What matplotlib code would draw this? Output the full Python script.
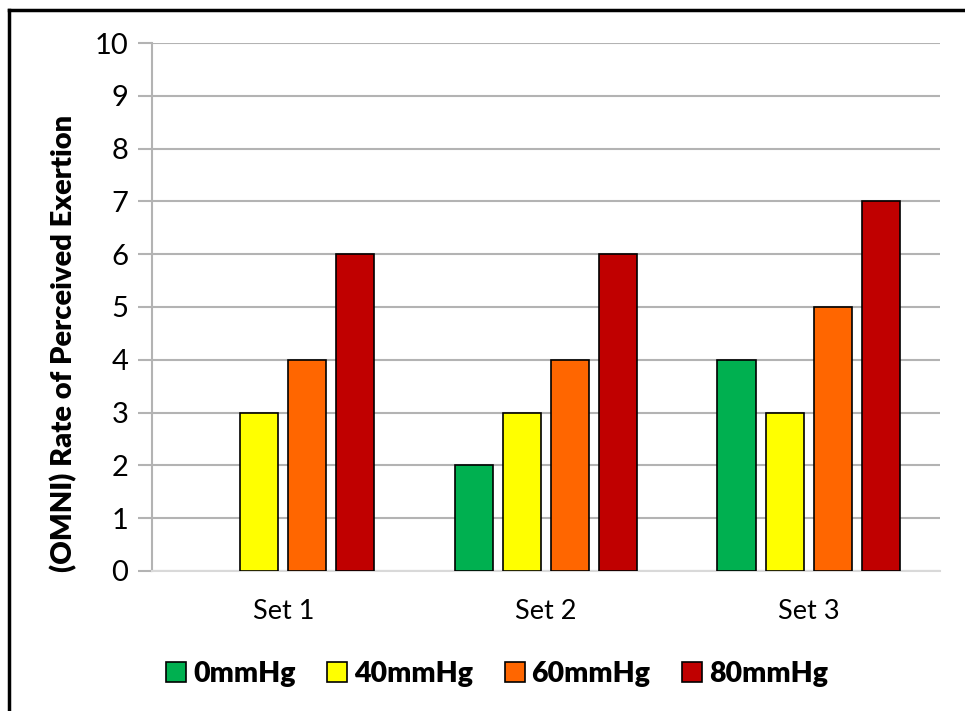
import matplotlib.pyplot as plt
import matplotlib.lines as mlines
import numpy as np

plt.rcParams['font.family'] = ['Lato', 'DejaVu Sans']

# Data
categories = ['Set 1', 'Set 2', 'Set 3']
series_names = ['0mmHg', '40mmHg', '60mmHg', '80mmHg']
series_colors = ['#00b050', '#ffff00', '#ff6600', '#c00000']
values_0 = [0, 2, 4]
values_40 = [3, 3, 3]
values_60 = [4, 4, 5]
values_80 = [6, 6, 7]
y_ticks = list(range(0, 11))

all_values = [values_0, values_40, values_60, values_80]

fig = plt.figure(figsize=(9.65, 7.11), dpi=100)
ax = fig.add_axes([0.1575, 0.197, 0.8165, 0.7425])

x = np.arange(len(categories))
bar_w = 0.145
step = 0.183
offsets = [-1.5 * step, -0.5 * step, 0.5 * step, 1.5 * step]

handles = []
for vals, name, col, off in zip(all_values, series_names, series_colors, offsets):
    heights = [v if v > 0 else np.nan for v in vals]
    ax.bar(x + off, heights, width=bar_w, color=col, edgecolor='black',
           linewidth=1.2, zorder=3)
    handles.append(mlines.Line2D([], [], marker='s', linestyle='none',
                                 markersize=14, markerfacecolor=col,
                                 markeredgecolor='black', markeredgewidth=1.2,
                                 label=name))

ax.set_xlim(-0.5, len(categories) - 0.5)
ax.set_ylim(0, 10)
ax.set_yticks(y_ticks)
ax.set_yticklabels([str(t) for t in y_ticks], fontsize=21)
ax.set_xticks(x)
ax.set_xticklabels(categories, fontsize=19.5)

ax.grid(axis='y', color='#b3b3b3', linewidth=1.5, zorder=0)
for s in ['top', 'right']:
    ax.spines[s].set_visible(False)
ax.spines['left'].set_color('#b3b3b3')
ax.spines['left'].set_linewidth(1.5)
ax.spines['bottom'].set_color('#d9d9d9')
ax.spines['bottom'].set_linewidth(1.5)
ax.tick_params(axis='y', length=10, width=1.5, color='#b3b3b3', pad=7)
ax.tick_params(axis='x', length=0, pad=20)

fig.text(64 / 965, 1 - 343 / 711, '(OMNI) Rate of Perceived Exertion',
         rotation=90, ha='center', va='center', fontsize=21, fontweight='heavy')

fig.legend(handles=handles, loc='center', bbox_to_anchor=(495 / 965, 1 - 674 / 711),
           ncol=4, frameon=False, prop={'size': 20.5, 'weight': 'heavy'},
           handletextpad=0.1, columnspacing=0.95, handlelength=1.0)

# outer chart border (only top and left edges fall inside the image)
fig.add_artist(mlines.Line2D([9 / 965, 9 / 965], [0, 1 - 10 / 711], color='black',
                             linewidth=2.5, transform=fig.transFigure))
fig.add_artist(mlines.Line2D([9 / 965, 1], [1 - 10 / 711, 1 - 10 / 711], color='black',
                             linewidth=2.5, transform=fig.transFigure))

fig.savefig('out.png', dpi=100)
